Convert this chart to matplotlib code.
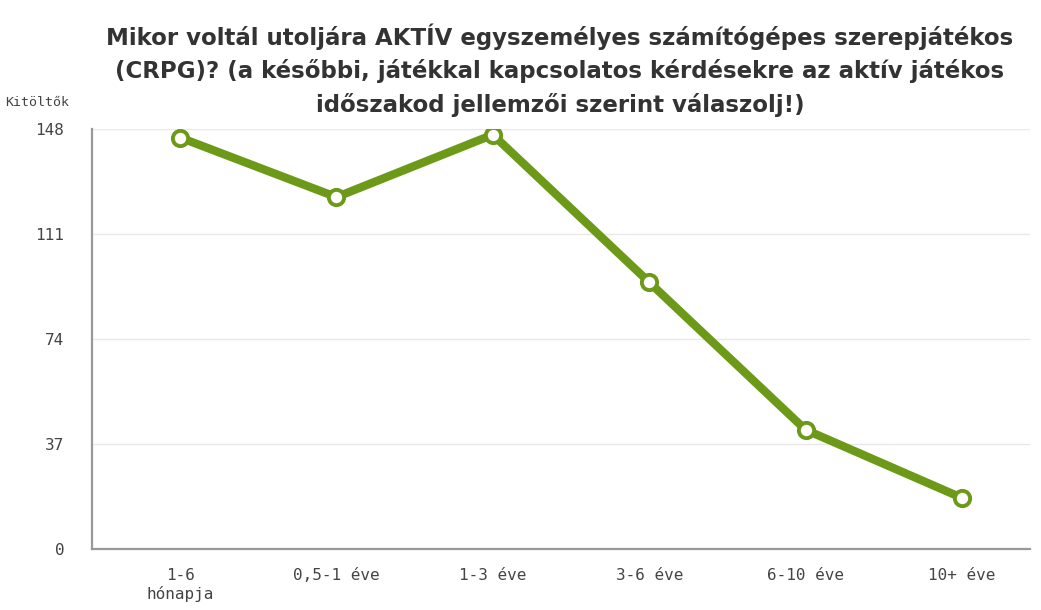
import matplotlib.pyplot as plt

categories = ["1-6\nhónapja", "0,5-1 éve", "1-3 éve", "3-6 éve", "6-10 éve", "10+ éve"]
values = [145, 124, 146, 94, 42, 18]
yticks = [0, 37, 74, 111, 148]
title = ("Mikor voltál utoljára AKTÍV egyszemélyes számítógépes szerepjátékos\n"
         "(CRPG)? (a későbbi, játékkal kapcsolatos kérdésekre az aktív játékos\n"
         "időszakod jellemzői szerint válaszolj!)")

green = "#6c9a18"

fig = plt.figure(figsize=(10.41, 6.10), dpi=100)
ax = fig.add_axes([92/1041, 61/610, (1030-92)/1041, (549-129)/610])

x = list(range(len(categories)))
ax.plot(x, values, color=green, lw=6, solid_capstyle="round", zorder=3)
ax.plot(x, values, "o", ms=11, mfc="white", mec=green, mew=2.8, zorder=4)

ax.set_xlim(-0.563, 5.435)
ax.set_ylim(0, 148)
ax.set_yticks(yticks)
ax.set_xticks(x)
ax.set_xticklabels(categories)
ax.tick_params(length=0, labelsize=11.5, colors="#444444", pad=14)
ax.tick_params(axis="y", pad=20)
for lab in ax.get_xticklabels() + ax.get_yticklabels():
    lab.set_family("DejaVu Sans Mono")
ax.grid(axis="y", color="#e9e9e9", lw=1)
ax.set_axisbelow(True)
for s in ["top", "right"]:
    ax.spines[s].set_visible(False)
for s in ["left", "bottom"]:
    ax.spines[s].set_color("#999999")
    ax.spines[s].set_linewidth(1.6)

fig.text(560/1041, 1-70/610, title, ha="center", va="center", fontsize=16.5,
         fontweight="bold", color="#333333", linespacing=1.5)
fig.text(5/1041, 1-102/610, "Kitöltők", ha="left", va="center", fontsize=9.5,
         color="#444444", family="DejaVu Sans Mono")

fig.savefig("out.png", dpi=100, facecolor="white")
